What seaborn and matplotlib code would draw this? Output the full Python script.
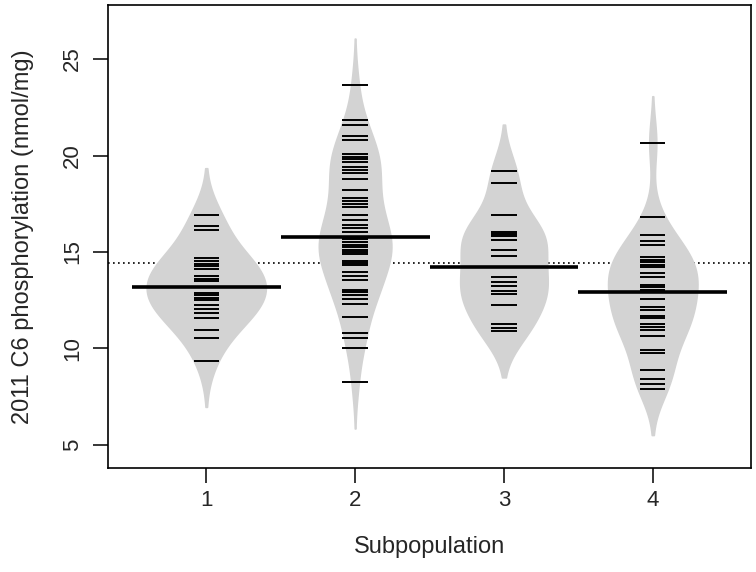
import numpy as np
import pandas as pd
import matplotlib
matplotlib.use("Agg")
import matplotlib.pyplot as plt
import seaborn as sns

subpops = ["1", "2", "3", "4"]

sub1 = [16.94, 16.33, 16.12, 14.70, 14.55, 14.35, 14.25, 14.10, 13.75, 13.60,
        13.48, 12.87, 12.75, 12.62, 12.50, 12.23, 12.06, 11.83, 11.59, 10.93,
        10.55, 9.37]
sub2 = [23.66, 21.83, 21.60, 21.00, 20.80, 20.08, 19.94, 19.80, 19.67, 19.40,
        19.23, 19.11, 18.77, 18.23, 17.80, 17.65, 17.50, 17.35, 16.90, 16.68,
        16.42, 16.24, 16.03, 15.75, 15.65, 15.50, 15.35, 15.25, 15.10, 15.00,
        14.90, 14.55, 14.42, 14.30, 13.95, 13.75, 13.53, 13.05, 12.90, 12.78,
        12.54, 12.28, 11.62, 10.79, 10.55, 10.01, 8.25]
sub3 = [19.20, 18.60, 16.90, 16.05, 15.95, 15.82, 15.60, 15.08, 14.77, 13.70,
        13.44, 13.23, 12.97, 12.80, 12.27, 11.24, 11.07, 10.90]
sub4 = [20.67, 16.81, 15.86, 15.55, 15.34, 14.74, 14.60, 14.48, 14.34, 14.22,
        13.90, 13.70, 13.30, 13.20, 13.05, 12.95, 12.58, 12.14, 11.97, 11.70,
        11.59, 11.28, 11.10, 10.98, 10.62, 9.93, 9.75, 8.89, 8.42, 8.17, 7.91]

groups = [sub1, sub2, sub3, sub4]
df = pd.DataFrame({
    "Subpopulation": np.repeat(subpops, [len(g) for g in groups]),
    "value": np.concatenate(groups),
})

# same kernel bandwidth for every bean (like beanplot does)
BW = 1.2


def common_bw(kde):
    return BW / np.std(kde.dataset, ddof=1)


sns.set_theme(style="white")
plt.rcParams["font.family"] = ["Liberation Sans", "DejaVu Sans"]

fig = plt.figure(figsize=(7.56, 5.72), dpi=100)
ax = fig.add_axes([0.1429, 0.1818, 0.8505, 0.8094])

# overall mean, dotted, behind the beans
ax.axhline(df["value"].mean(), color="black", lw=1.2, ls=(0, (1, 2)), zorder=0)

bean_grey = "#d3d3d3"
sns.violinplot(data=df, x="Subpopulation", y="value", order=subpops,
               inner=None, color=bean_grey, linecolor=bean_grey, linewidth=1.2,
               saturation=1, bw_method=common_bw, cut=2, density_norm="area",
               width=0.8, ax=ax)

# bean lines: one short tick per observation plus the group median
for i, g in enumerate(subpops):
    vals = df.loc[df["Subpopulation"] == g, "value"]
    ax.hlines(vals, i - 0.085, i + 0.085, color="black", lw=1.4, zorder=3)
    ax.hlines(np.median(vals), i - 0.5, i + 0.5, color="black", lw=2.6, zorder=4)

ax.set_xlim(-0.66, 3.66)
ax.set_ylim(3.8, 27.8)
ax.set_yticks([5, 10, 15, 20, 25])
ax.set_xlabel("Subpopulation", fontsize=17, labelpad=18)
ax.set_ylabel("2011 C6 phosphorylation (nmol/mg)", fontsize=17, labelpad=20)
ax.tick_params(axis="both", direction="out", length=11, width=1.1,
               color="black", labelsize=16, bottom=True, left=True)
ax.tick_params(axis="x", pad=5)
ax.tick_params(axis="y", pad=7)
for lab in ax.get_yticklabels():
    lab.set_rotation(90)
    lab.set_va("center")
for s in ax.spines.values():
    s.set_color("black")
    s.set_linewidth(1.2)

fig.savefig("out.png", dpi=100)
